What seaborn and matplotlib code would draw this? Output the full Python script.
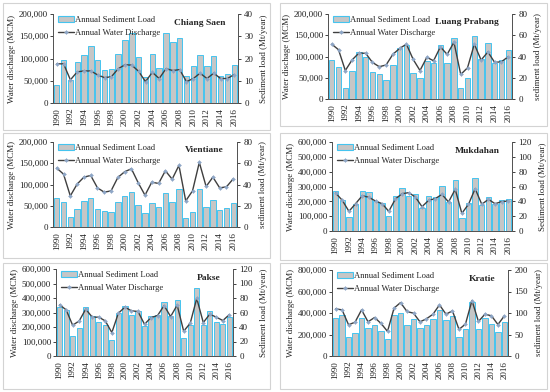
import numpy as np
import pandas as pd
import matplotlib
matplotlib.use("Agg")
import matplotlib.pyplot as plt
import seaborn as sns
from matplotlib.ticker import StrMethodFormatter, MultipleLocator
from matplotlib.patches import Rectangle, Patch
from matplotlib.lines import Line2D

sns.set_theme(style="white")
plt.rcParams['font.family'] = ['Liberation Serif', 'DejaVu Serif']

years = list(range(1990, 2017))
year_ticks = list(range(1990, 2017, 2))

# Water discharge (MCM), line on left axis
cs_water = [88000, 88000, 52000, 70000, 72000, 72000, 63000, 57000, 59000, 77000, 86000, 85000, 71000, 48000,
            69000, 55000, 77000, 73000, 75000, 48000, 55000, 67000, 55000, 67000, 55000, 55000, 64000]
lp_water = [129000, 116000, 67000, 92000, 108000, 107500, 86000, 76000, 80000, 105000, 119000, 129000, 93000, 67000,
            98000, 90000, 122500, 105000, 133600, 57700, 73500, 129000, 91700, 110700, 86000, 87700, 99600]
vt_water = [138600, 124400, 73200, 100800, 117300, 121300, 92100, 81900, 85000, 116500, 130000, 137000, 104000, 74800,
            105500, 102400, 132300, 112600, 144900, 61400, 85000, 152000, 95300, 117300, 92100, 94500, 113400]
mk_water = [256000, 206700, 132600, 184000, 238000, 227000, 202000, 184000, 132600, 216000, 251700, 258400, 229000, 164000,
            206700, 218000, 247000, 195500, 281000, 119000, 180000, 285000, 180000, 213500, 184000, 198000, 202000]
pk_water = [353000, 318500, 212000, 242000, 323000, 267700, 267700, 242000, 161500, 295000, 337000, 311500, 307000, 219000,
            265000, 279000, 348000, 272000, 351000, 171000, 226000, 397000, 230800, 288500, 267700, 244600, 286000]
kr_water = [438600, 429000, 290000, 315000, 429000, 318000, 358000, 303000, 228600, 444800, 497000, 414000, 398000, 318000,
            346000, 389000, 475700, 389000, 420000, 247000, 297000, 516000, 321000, 389000, 374000, 293000, 374000]

# Sediment load (Mt/year), bars on right axis
cs_sed = [8.2, 19.3, 10.5, 18.4, 21.6, 25.4, 19.2, 14.8, 15.4, 22.0, 28.4, 31.4, 20.6, 11.6,
          22.2, 15.6, 31.6, 27.2, 29.0, 12.0, 16.6, 21.6, 16.6, 21.2, 12.0, 13.2, 17.0]
lp_sed = [36.7, 30.4, 10.8, 26.2, 44.0, 39.8, 25.0, 23.4, 17.7, 31.9, 48.0, 51.0, 24.7, 20.2,
          35.7, 33.5, 50.6, 34.0, 57.2, 10.0, 19.3, 59.1, 37.5, 52.8, 33.5, 36.7, 45.8]
vt_sed = [27.7, 23.9, 9.4, 17.3, 24.6, 27.1, 16.7, 15.1, 14.2, 23.9, 29.0, 32.8, 20.8, 12.9,
          22.4, 18.9, 32.1, 23.3, 35.3, 8.2, 14.2, 35.6, 18.6, 25.5, 16.1, 17.6, 22.4]
mk_sed = [54.4, 41.3, 18.4, 36.0, 54.4, 53.0, 40.0, 37.8, 20.7, 46.7, 58.4, 47.2, 49.4, 31.5,
          46.7, 45.8, 61.1, 39.1, 69.2, 17.5, 37.8, 71.9, 34.6, 46.1, 36.0, 41.8, 42.7]
pk_sed = [67.8, 62.8, 27.2, 38.3, 67.4, 55.4, 47.5, 42.5, 22.6, 59.0, 68.8, 56.8, 62.3, 41.0,
          55.8, 56.8, 74.3, 55.4, 77.5, 24.9, 43.4, 94.2, 43.4, 62.3, 47.5, 44.3, 53.5]
kr_sed = [87.3, 95.8, 43.2, 52.5, 88.0, 64.9, 71.8, 57.9, 38.6, 95.0, 100.4, 72.6, 86.5, 64.9,
          72.6, 85.0, 106.6, 84.2, 93.4, 43.2, 62.5, 126.6, 63.3, 88.0, 73.4, 54.8, 79.5]

stations = ["Chiang Saen", "Luang Prabang", "Vientiane", "Mukdahan", "Pakse", "Kratie"]
water_sets = [cs_water, lp_water, vt_water, mk_water, pk_water, kr_water]
sed_sets = [cs_sed, lp_sed, vt_sed, mk_sed, pk_sed, kr_sed]
left_labels = ["Water discharge (MCM)", "Water dischage (MCM)", "Water discharge (MCM)",
               "Water discharge (MCM)", "Water discharge (MCM)", "Water discharge (MCM)"]
right_labels = ["Sediment load (Mt/year)", "sediment load (Mt/year)", "sediment load (Mt/year)",
                "Sediment load (Mt/year)", "Sediment load (Mt/year)", "sediment load (Mt/year)"]
left_max = [200000, 200000, 200000, 600000, 600000, 800000]
left_step = [50000, 50000, 50000, 100000, 100000, 200000]
right_max = [40, 80, 80, 120, 120, 200]
right_step = [10, 20, 20, 20, 20, 50]

W, H = 550, 392
# plot-area boxes in pixels: left, right, top, bottom
boxes = [(53, 238, 14, 103), (328, 512, 14, 99), (53, 237, 142, 227),
         (332, 512, 142, 231), (56, 233, 269, 356), (332, 508, 270, 356)]
panels = [(3, 270, 3, 130), (280, 547, 3, 126), (3, 270, 133, 258),
          (280, 547, 133, 260), (3, 270, 263, 389), (280, 547, 263, 389)]

BAR_FACE = "#c6c6c6"
BAR_EDGE = "#45c4ef"
LINE_C = "#3f3f3f"
MARK_C = "#8ea6c6"
FS = 6.5

fig = plt.figure(figsize=(W / 100, H / 100), dpi=100)
fig.patch.set_facecolor("white")

for (pl, pr, pt, pb) in panels:
    fig.add_artist(Rectangle((pl / W, 1 - pb / H), (pr - pl) / W, (pb - pt) / H,
                             transform=fig.transFigure, fill=False, edgecolor="#d3d3d3", linewidth=0.8))

for i in range(6):
    l, r, t, b = boxes[i]
    ax = fig.add_axes([l / W, 1 - b / H, (r - l) / W, (b - t) / H])
    ax2 = ax.twinx()
    df = pd.DataFrame({"year": years, "water": water_sets[i], "sed": sed_sets[i]})
    sns.barplot(data=df, x="year", y="sed", native_scale=True, ax=ax2, color=BAR_FACE,
                edgecolor=BAR_EDGE, linewidth=0.7, width=0.8, errorbar=None, saturation=1)
    for p in ax2.patches:
        p.set_facecolor(BAR_FACE)
    sns.lineplot(data=df, x="year", y="water", ax=ax, color=LINE_C, linewidth=1.0,
                 marker="D", markersize=2.0, markerfacecolor=MARK_C, markeredgecolor=MARK_C,
                 markeredgewidth=0.3)
    ax.set_zorder(ax2.get_zorder() + 1)
    ax.patch.set_visible(False)

    ax.set_xlim(1989.45, 2016.55)
    ax.set_ylim(0, left_max[i])
    ax2.set_ylim(0, right_max[i])
    ax.yaxis.set_major_locator(MultipleLocator(left_step[i]))
    ax2.yaxis.set_major_locator(MultipleLocator(right_step[i]))
    ax.yaxis.set_major_formatter(StrMethodFormatter("{x:,.0f}"))
    ax.set_xticks(year_ticks)
    ax.set_xticklabels([str(y) for y in year_ticks], rotation=90)
    ax.set_xlabel("")
    ax.set_ylabel(left_labels[i], fontsize=FS, labelpad=2)
    ax2.set_ylabel(right_labels[i], fontsize=FS, labelpad=5)
    ax2.set_xlabel("")
    ax.tick_params(axis="both", labelsize=FS, length=2, width=0.6, pad=1.5, colors="#222222")
    ax2.tick_params(axis="y", labelsize=FS, length=2, width=0.6, pad=2.5, colors="#222222")
    for a in (ax, ax2):
        a.spines["top"].set_visible(False)
        for s in ("left", "right", "bottom"):
            a.spines[s].set_color("#555555")
            a.spines[s].set_linewidth(0.7)
        a.grid(False)

    handles = [Patch(facecolor=BAR_FACE, edgecolor=BAR_EDGE, linewidth=0.8),
               Line2D([], [], color=LINE_C, linewidth=1.0, marker="D", markersize=2.0,
                      markerfacecolor=MARK_C, markeredgecolor=MARK_C, markeredgewidth=0.3)]
    ax.legend(handles, ["Annual Sediment Load", "Annual Water Discharge"], loc="upper left",
              bbox_to_anchor=(0.0, 1.04), frameon=False, fontsize=6.2, handlelength=1.8,
              handletextpad=0.2, borderaxespad=0.2, labelspacing=0.6)
    ax.text(0.93, 0.9, stations[i], transform=ax.transAxes, ha="right", va="center",
            fontsize=6.8, fontweight="bold")

fig.savefig("out.png", dpi=100, facecolor="white")
